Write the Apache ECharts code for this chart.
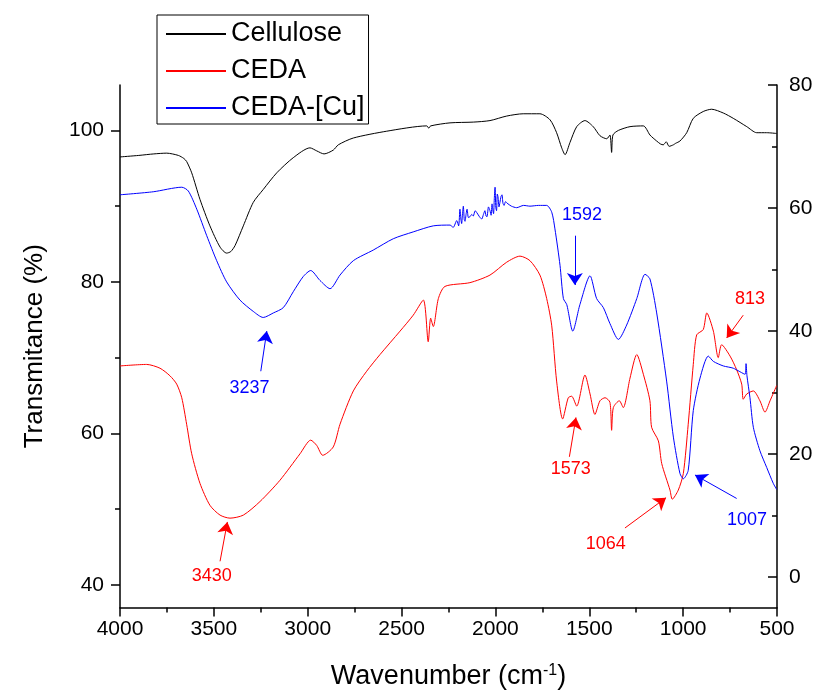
<!DOCTYPE html>
<html><head><meta charset="utf-8">
<script src="https://cdn.jsdelivr.net/npm/echarts@6/dist/echarts.min.js"></script>
<style>html,body{margin:0;padding:0;background:#fff}#c{width:816px;height:695px}</style>
</head><body><div id="c"></div>
<script>
// ---------- data ----------
const seriesNames = ['Cellulose', 'CEDA', 'CEDA-[Cu]'];

const celluloseWn = [4000,3900,3820,3751,3689,3660,3645,3618,3574,3521,3467,3432,3410,3387,3343,3290,3237,3165,3077,2988,2952,2913,2864,2837,2757,2579,2366,2355,2345,2242,2118,2029,1940,1852,1763,1709,1674,1647,1629,1603,1567,1523,1479,1443,1407,1390,1381,1374,1345,1283,1212,1177,1160,1141,1120,1106,1090,1075,1052,1040,1017,981,946,893,848,786,733,661,608,555,502];
const celluloseT  = [96.5,96.7,96.9,97.0,96.7,96.3,95.9,94.4,90.9,87.4,84.6,83.8,84.0,84.8,87.4,90.5,92.2,94.4,96.4,97.7,97.3,96.9,97.4,98.1,99.0,99.9,100.6,100.3,100.6,101.0,101.1,101.3,101.9,102.2,102.2,101.4,99.7,97.7,96.8,98.4,100.5,101.3,100.5,99.3,98.9,99.4,97.1,99.4,100.0,100.5,100.6,99.4,99.0,98.6,98.2,98.1,98.5,97.9,98.1,98.3,98.6,99.7,101.6,102.5,102.8,102.3,101.6,100.5,99.7,99.7,99.6];

const cedaWn = [4000,3858,3787,3734,3698,3671,3645,3618,3574,3521,3467,3414,3343,3254,3148,3041,2984,2952,2920,2864,2828,2757,2686,2615,2508,2438,2384,2358,2345,2331,2304,2269,2136,2029,1940,1869,1816,1763,1727,1700,1674,1642,1612,1594,1567,1523,1496,1470,1443,1416,1390,1381,1372,1340,1319,1283,1247,1212,1177,1168,1132,1114,1070,1058,1026,999,973,946,928,893,874,839,813,795,750,715,688,680,661,626,591,564,537,502];
const cedaT  = [68.9,69.1,68.6,67.6,66.5,64.7,61.2,57.3,53.4,50.5,49.2,48.8,49.2,51.0,53.8,57.3,59.1,58.4,57.1,58.2,61.2,65.6,68.2,70.4,73.5,75.6,77.6,72.1,75.2,74.1,77.8,79.4,79.9,80.9,82.6,83.4,82.8,80.9,77.8,74.2,66.9,61.9,64.7,64.9,63.6,67.7,65.2,62.5,64.3,64.7,64.1,60.4,63.4,64.3,63.4,67.3,70.4,67.8,64.3,60.8,59.0,56.0,52.5,51.3,52.5,54.7,61.2,69.1,73.0,73.7,75.9,73.5,70.0,71.7,70.2,68.4,66.5,64.5,65.2,65.6,64.3,62.8,64.3,66.3];

const cuWn = [4000,3823,3671,3636,3591,3538,3485,3432,3361,3290,3237,3183,3130,3077,3024,2984,2935,2881,2828,2757,2651,2544,2438,2331,2242,2225,2206,2196,2189,2184,2180,2175,2171,2166,2162,2156,2151,2144,2136,2126,2118,2108,2098,2085,2073,2064,2056,2050,2045,2037,2029,2023,2018,2014,2010,2006,2002,1998,1994,1990,1986,1981,1976,1970,1965,1960,1954,1946,1938,1915,1887,1850,1816,1770,1727,1700,1683,1656,1638,1620,1588,1550,1496,1461,1425,1390,1345,1301,1247,1203,1177,1141,1088,1052,1017,999,973,946,910,866,839,786,733,670,665,660,644,626,591,555,520,502];
const cuT  = [91.5,91.9,92.5,92.0,89.6,86.1,82.8,80.0,77.6,76.1,75.3,75.9,76.6,78.7,80.7,81.5,80.2,79.1,80.9,82.8,84.2,85.7,86.6,87.4,87.5,87.2,88.1,87.4,89.6,88.3,87.7,89.2,90.0,88.2,88.0,89.0,89.6,88.5,88.6,88.9,88.7,89.4,89.1,88.6,88.3,88.9,89.4,88.7,88.6,89.9,89.4,88.8,90.3,89.5,89.0,91.0,92.5,89.8,89.4,91.6,91.2,89.9,90.5,91.3,91.5,90.4,90.1,90.6,90.4,90.0,89.8,90.1,90.0,90.1,90.1,89.2,87.0,82.2,77.8,77.0,73.5,77.0,80.8,77.8,76.6,74.5,72.4,74.3,77.8,81.0,80.4,75.9,66.9,59.5,54.7,54.0,55.1,63.0,67.3,70.2,69.5,68.9,68.6,67.8,69.2,67.6,64.7,60.8,57.7,55.5,53.4,52.6];

const xTicks = [500,1000,1500,2000,2500,3000,3500,4000];
const leftTicks = [40,60,80,100];
const leftMinorTicks = [50,70,90];
const rightTicks = [0,20,40,60,80];
const rightMinorTicks = [10,30,50,70];

// annotations: [label, series, textWn, textT, arrowFromWn, arrowFromT, arrowToWn, arrowToT]
const annotations = [
  ['1592', 2, 1539, 88.8, 1577, 86.1, 1577, 79.6],
  ['3237', 2, 3310, 66.0, 3250, 68.2, 3218, 73.5],
  ['3430', 1, 3511, 41.1, 3467, 43.1, 3428, 48.3],
  ['1573', 1, 1599, 55.3, 1606, 56.9, 1571, 62.1],
  ['1064', 1, 1412, 45.4, 1310, 47.5, 1091, 51.5],
  ['1007', 2, 660, 48.6, 715, 51.4, 937, 54.5],
  ['813',  1, 644, 77.7, 680, 75.6, 768, 72.6]
];

// ---------- chart ----------
const FONT = 'Liberation Sans, Arial, sans-serif';
const colors = ['#000000', '#ff0000', '#0000ff'];
const chart = echarts.init(document.getElementById('c'), null, {renderer: 'canvas'});

function zip(a, b) { return a.map((v, i) => [v, b[i]]); }
const seriesData = [zip(celluloseWn, celluloseT), zip(cedaWn, cedaT), zip(cuWn, cuT)];

const series = seriesNames.map((name, i) => {
  const ann = annotations.filter(a => a[1] === i);
  return {
    name, type: 'line', data: seriesData[i], yAxisIndex: 0,
    showSymbol: false, symbol: 'none', silent: true,
    smooth: 0.25,
    lineStyle: {color: colors[i], width: 1},
    itemStyle: {color: colors[i]},
    z: i === 0 ? 3 : (i === 1 ? 2 : 4),
    markLine: ann.length ? {
      silent: true, symbol: ['none', 'arrow'], symbolSize: 12, animation: false,
      label: {show: false},
      lineStyle: {color: colors[i], width: 1, type: 'solid'},
      data: ann.map(a => [{coord: [a[4], a[5]]}, {coord: [a[6], a[7]]}])
    } : undefined,
    markPoint: ann.length ? {
      silent: true, symbol: 'circle', symbolSize: 1, animation: false,
      itemStyle: {color: 'rgba(0,0,0,0)'},
      label: {show: true, position: 'inside', formatter: '{b}', color: colors[i], fontSize: 18, fontFamily: FONT},
      data: ann.map(a => ({name: a[0], coord: [a[2], a[3]], value: a[0]}))
    } : undefined
  };
});

const axisLineStyle = {color: '#000', width: 1.5};
chart.setOption({
  animation: false,
  backgroundColor: '#fff',
  grid: {left: 120, right: 39, top: 85, bottom: 84, containLabel: false},
  legend: {
    data: seriesNames, orient: 'vertical', left: 157, top: 15,
    itemWidth: 60, itemHeight: 14, itemGap: 7, padding: [4, 4, 1, 8],
    borderColor: '#000', borderWidth: 1, backgroundColor: '#fff',
    selectedMode: false,
    itemStyle: {color: 'rgba(0,0,0,0)', borderWidth: 0},
    textStyle: {fontSize: 27, fontFamily: FONT, color: '#000', lineHeight: 30}
  },
  xAxis: {
    type: 'value', min: 500, max: 4000, interval: 500, inverse: true,
    axisLine: {show: true, onZero: false, lineStyle: axisLineStyle},
    axisTick: {show: true, inside: false, length: 9, lineStyle: axisLineStyle},
    minorTick: {show: true, splitNumber: 2, length: 5, lineStyle: {color: '#000', width: 1.5}},
    axisLabel: {fontSize: 21, fontFamily: FONT, color: '#000', margin: 11, customValues: xTicks,
      formatter: v => String(v)},
    splitLine: {show: false},
    name: 'Wavenumber (cm{sup|-1})', nameLocation: 'middle', nameGap: 55,
    nameTextStyle: {fontSize: 27, fontFamily: FONT, color: '#000',
      rich: {sup: {fontSize: 16, fontFamily: FONT, color: '#000', verticalAlign: 'top', padding: [0, 0, 12, 0]}}}
  },
  yAxis: [
    {
      type: 'value', position: 'left', min: 37, max: 106,
      axisLine: {show: true, onZero: false, lineStyle: axisLineStyle},
      axisTick: {show: true, inside: false, length: 9, customValues: leftTicks, lineStyle: axisLineStyle},
      axisLabel: {fontSize: 21, fontFamily: FONT, color: '#000', margin: 16, customValues: leftTicks},
      splitLine: {show: false},
      name: 'Transmitance (%)', nameLocation: 'middle', nameGap: 72,
      nameTextStyle: {fontSize: 26, fontFamily: FONT, color: '#000'}
    },
    {
      type: 'value', position: 'right', min: -5, max: 80,
      axisLine: {show: true, onZero: false, lineStyle: axisLineStyle},
      axisTick: {show: true, inside: true, length: 9, customValues: rightTicks, lineStyle: axisLineStyle},
      axisLabel: {fontSize: 21, fontFamily: FONT, color: '#000', margin: 12, customValues: rightTicks},
      splitLine: {show: false}
    },
    {
      type: 'value', position: 'left', min: 37, max: 106,
      axisLine: {show: false},
      axisTick: {show: true, inside: false, length: 5, customValues: leftMinorTicks, lineStyle: axisLineStyle},
      axisLabel: {show: false, customValues: leftMinorTicks},
      splitLine: {show: false}
    },
    {
      type: 'value', position: 'right', min: -5, max: 80,
      axisLine: {show: false},
      axisTick: {show: true, inside: true, length: 5, customValues: rightMinorTicks, lineStyle: axisLineStyle},
      axisLabel: {show: false, customValues: rightMinorTicks},
      splitLine: {show: false}
    }
  ],
  series
});
</script>
</body></html>
